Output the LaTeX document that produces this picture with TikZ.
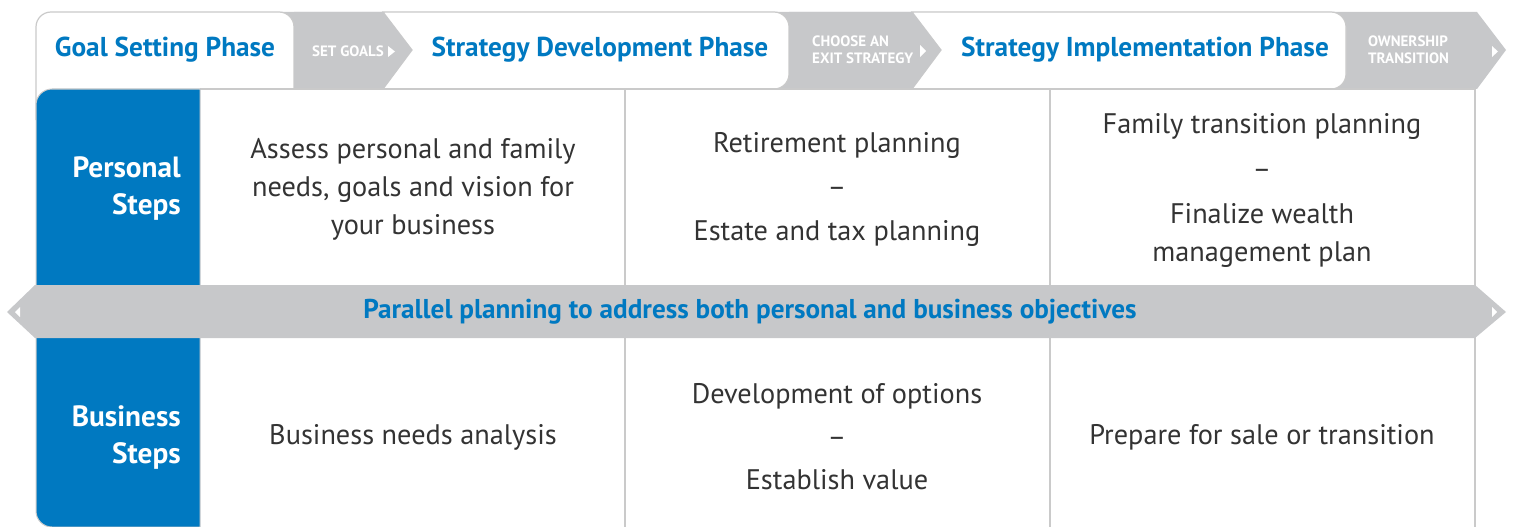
\documentclass[tikz,border=0pt]{standalone}
\usepackage{fontspec}
\setmainfont{PT Sans}
\definecolor{bmoblue}{HTML}{0079C1}
\definecolor{bandgray}{HTML}{C7C8CA}
\definecolor{linegray}{HTML}{CACACA}
\definecolor{txt}{HTML}{333333}
\begin{document}
\begin{tikzpicture}[x=1pt,y=1pt,
  hdr/.style={font=\bfseries\fontsize{27.3}{32}\selectfont, text=bmoblue, anchor=base, inner sep=0pt},
  lbl/.style={font=\bfseries\fontsize{15}{17.5}\selectfont, text=white, align=left, inner sep=0pt},
  body/.style={font=\fontsize{28.3}{38}\selectfont, text=txt, align=center, inner sep=0pt},
  side/.style={font=\bfseries\fontsize{29.3}{37}\selectfont, text=white, align=right, anchor=east, inner sep=0pt},
  bandtxt/.style={font=\bfseries\fontsize{27.2}{30}\selectfont, text=bmoblue, inner sep=0pt},
  tri/.style={fill=white, draw=none},
  gridline/.style={draw=linegray, line width=1.2pt}
]
\useasboundingbox (0,0) rectangle (1513,-527);
% header gray band with right chevron
\fill[bandgray] (280,-12) -- (1477,-12) -- (1506,-50) -- (1477,-89) -- (280,-89) -- cycle;
% white tabs
\path[fill=white, draw=linegray, line width=1.2pt] (36,-120) -- (36,-27) arc[start angle=180,end angle=90,radius=15] -- (279,-12) arc[start angle=90,end angle=0,radius=15] -- (294,-89);
\path[fill=white, draw=linegray, line width=1.2pt] (412,-50) -- (383,-12) -- (774,-12) arc[start angle=90,end angle=0,radius=15] -- (789,-74) arc[start angle=0,end angle=-90,radius=15] -- (383,-89) -- cycle;
\path[fill=white, draw=linegray, line width=1.2pt] (941,-50) -- (912,-12) -- (1331,-12) arc[start angle=90,end angle=0,radius=15] -- (1346,-74) arc[start angle=0,end angle=-90,radius=15] -- (912,-89) -- cycle;
\fill[bandgray] (294,-12) -- (383,-12) -- (412,-50) -- (383,-89) -- (294,-89) -- cycle;
\fill[bandgray] (789,-30) -- (789,-12) -- (912,-12) -- (941,-50) -- (912,-89) -- (789,-89) -- cycle;
% grid
\draw[gridline] (200,-89) -- (1475,-89);
\draw[gridline] (625,-89) -- (625,-527);
\draw[gridline] (1050,-89) -- (1050,-527);
\draw[gridline] (1475,-89) -- (1475,-527);
% blue side box
\path[fill=bmoblue, draw=linegray, line width=1pt] (200,-89) -- (52,-89) arc[start angle=90,end angle=180,radius=16] -- (36,-511) arc[start angle=180,end angle=270,radius=16] -- (200,-527) -- cycle;
% middle band
\fill[bandgray] (7,-312) -- (35,-285) -- (1475,-285) -- (1506,-312) -- (1475,-338) -- (35,-338) -- cycle;
\fill[tri] (15,-312) -- (20,-307) -- (20,-317) -- cycle;
\fill[tri] (1497,-312) -- (1492,-307) -- (1492,-317) -- cycle;
% header labels
\node[hdr] (h1) at (165,-57) {Goal Setting Phase};
\node[hdr] (h2) at (600,-57) {Strategy Development Phase};
\node[hdr] (h3) at (1145,-57) {Strategy Implementation Phase};
\node[lbl, anchor=base west] (l1) at (312,-57) {SET GOALS};
\fill[tri] (388,-46) -- (395,-51.5) -- (388,-57) -- cycle;
\node[lbl, anchor=west] (l2) at (812,-50) {CHOOSE AN\\EXIT STRATEGY};
\fill[tri] (920,-45) -- (926,-51) -- (920,-57) -- cycle;
\node[lbl, anchor=west] (l3) at (1368,-50) {OWNERSHIP\\TRANSITION};
\fill[tri] (1492,-46) -- (1498,-51.5) -- (1492,-57) -- cycle;
% side labels
\node[side] (ps) at (181,-189) {Personal\\Steps};
\node[side] (bs) at (181,-438) {Business\\Steps};
% band text
\node[bandtxt] (band) at (750,-312) {Parallel planning to address both personal and business objectives};
% personal row
\node[body] (p1) at (413,-189) {Assess personal and family\\needs, goals and vision for\\your business};
\node[body] (p2) at (837,-189) {Retirement planning\\[6pt]\textendash\\[6pt]Estate and tax planning};
\node[body] (p3) at (1262,-190) {Family transition planning\\[7pt]\textendash\\[7pt]Finalize wealth\\management plan};
% business row
\node[body] (b1) at (413,-437) {Business needs analysis};
\node[body] (b2) at (837,-437) {Development of options\\[5pt]\textendash\\[5pt]Establish value};
\node[body] (b3) at (1262,-437) {Prepare for sale or transition};
\end{tikzpicture}
\end{document}
